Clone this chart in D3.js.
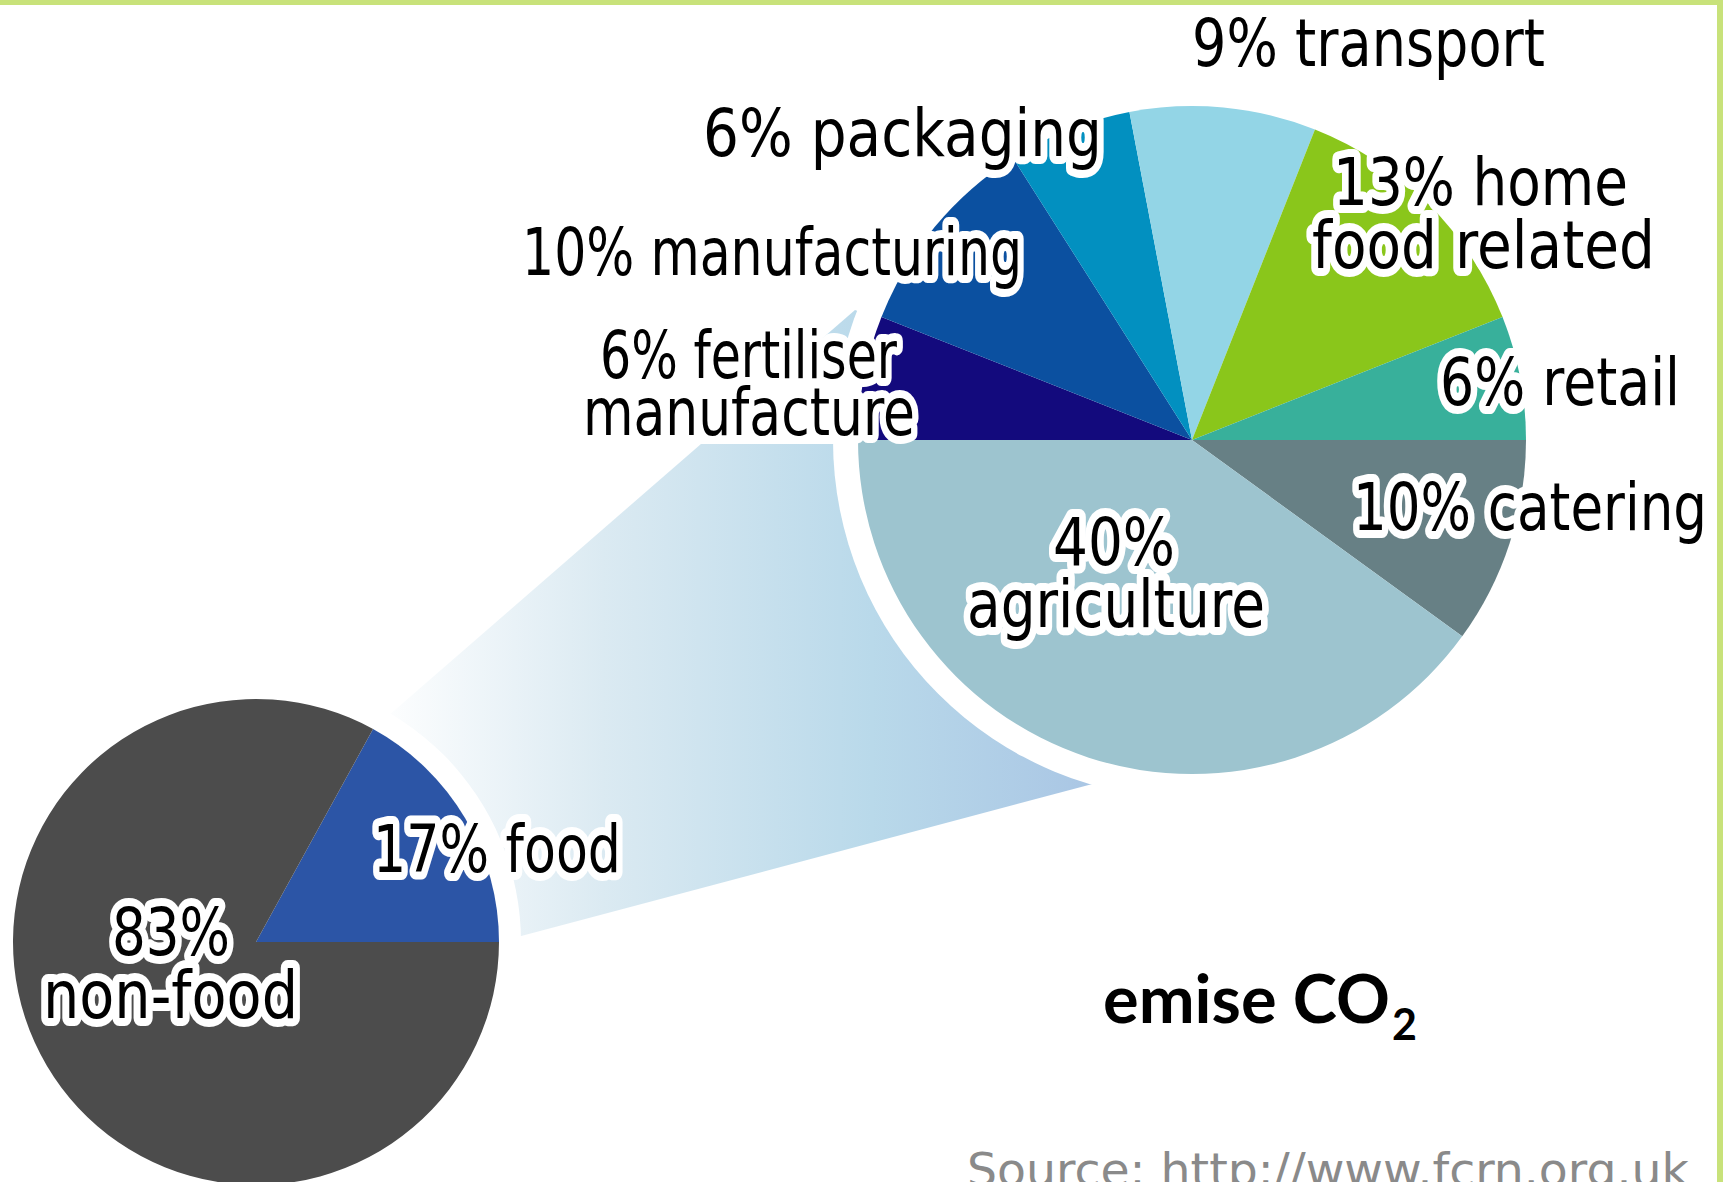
<!DOCTYPE html>
<html>
<head>
<meta charset="utf-8">
<script src="https://cdn.jsdelivr.net/npm/d3@7"></script>
<style>
  html, body { margin: 0; padding: 0; background: #ffffff; }
  svg { display: block; }
  .lbl { font-family: "DejaVu Sans", "Noto Sans", sans-serif; font-size: 66px; fill: #000;
         stroke: #fff; stroke-width: 16px; stroke-linejoin: round; paint-order: stroke; }
</style>
</head>
<body>
<svg id="chart" width="1723" height="1182"></svg>
<script>
// Share of total CO2 emissions: food vs everything else
const splitNames  = ["food", "non-food"];
const splitShares = [17, 83];

// Breakdown of the food share by stage of the supply chain (clockwise from 9 o'clock)
const sectorHeads  = ["fertiliser", "manufacturing", "packaging", "transport", "home", "retail", "catering", ""];
const sectorTails  = ["manufacture", "", "", "", "food related", "", "", "agriculture"];
const sectorShares = [6, 10, 6, 9, 13, 6, 10, 40];

const titleText  = "emise CO";
const titleSub   = "2";
const sourceText = "Source: http://www.fcrn.org.uk";

// ---- colours -------------------------------------------------------------
const splitColors  = ["#2c55a6", "#4c4c4c"];
const sectorColors = ["#130a7d", "#0b50a0", "#0290c0", "#93d5e6", "#8ac61b", "#38b09b", "#678085", "#9dc4cf"];
const frameColor   = "#c8e27a";

// ---- layout ----------------------------------------------------------------
const W = 1723, H = 1182;
const small = { cx: 256, cy: 942, r: 243, gap: 22 };
const big   = { cx: 1192, cy: 440, r: 334, gap: 25 };

// label lines: x of the left edge, baseline, and fitted width
const sectorLabelPos = [
  [{ x: 600, y: 378, w: 297 }, { x: 583, y: 435, w: 332 }],
  [{ x: 522, y: 275, w: 500 }],
  [{ x: 703, y: 156, w: 399 }],
  [{ x: 1192, y: 66, w: 353 }],
  [{ x: 1333, y: 205, w: 295 }, { x: 1312, y: 268, w: 343 }],
  [{ x: 1440, y: 405, w: 240 }],
  [{ x: 1353, y: 530, w: 354 }],
  [{ x: 1053, y: 565, w: 122 }, { x: 967, y: 627, w: 298 }]
];
const splitLabelPos = [
  [{ x: 373, y: 872, w: 248 }],
  [{ x: 112, y: 955, w: 118 }, { x: 43, y: 1018, w: 255 }]
];

const svg = d3.select("#chart");
svg.append("rect").attr("width", W).attr("height", H).attr("fill", "#fff");

// ---- pie layouts -------------------------------------------------------------
const foodFrac = splitShares[0] / d3.sum(splitShares);
const splitStart = Math.PI / 2 - foodFrac * 2 * Math.PI;
const splitArcs = d3.pie().sort(null)
  .startAngle(splitStart).endAngle(splitStart + 2 * Math.PI)(splitShares);

const sectorArcs = d3.pie().sort(null)
  .startAngle(-Math.PI / 2).endAngle(1.5 * Math.PI)(sectorShares);

const polar = (c, rad, a) => [c.cx + rad * Math.sin(a), c.cy - rad * Math.cos(a)];

// ---- the "zoom" cone from the food slice to the detailed pie ----------------
const foodArc = splitArcs[0];
const nearTop = polar(small, small.r, foodArc.startAngle);
const nearBot = polar(small, small.r, foodArc.endAngle);
const farTop = [855, 310];
const farBot = [1100, 782];

const defs = svg.append("defs");
const grad = defs.append("linearGradient").attr("id", "coneFill")
  .attr("gradientUnits", "userSpaceOnUse")
  .attr("x1", nearTop[0]).attr("y1", 0).attr("x2", farBot[0] + 40).attr("y2", 0);
[["0", "#ffffff"], ["0.3", "#dbeaf2"], ["0.65", "#b9d9ea"], ["1", "#a6c2e3"]]
  .forEach(([o, c]) => grad.append("stop").attr("offset", o).attr("stop-color", c));

svg.append("path")
  .attr("d", d3.line()([nearTop, farTop, [big.cx, big.cy], farBot, nearBot]) + "Z")
  .attr("fill", "url(#coneFill)");

// white halos that separate the cone from both pies
svg.append("circle").attr("cx", small.cx).attr("cy", small.cy).attr("r", small.r + small.gap).attr("fill", "#fff");
svg.append("circle").attr("cx", big.cx).attr("cy", big.cy).attr("r", big.r + big.gap).attr("fill", "#fff");
// white panel behind the fertiliser label
svg.append("rect").attr("x", 560).attr("y", 338).attr("width", 370).attr("height", big.cy + 4 - 338).attr("fill", "#fff");

// ---- pies ---------------------------------------------------------------------
svg.append("g").attr("transform", `translate(${small.cx},${small.cy})`)
  .selectAll("path").data(splitArcs).join("path")
  .attr("d", d3.arc().innerRadius(0).outerRadius(small.r))
  .attr("fill", (d, i) => splitColors[i]);

svg.append("g").attr("transform", `translate(${big.cx},${big.cy})`)
  .selectAll("path").data(sectorArcs).join("path")
  .attr("d", d3.arc().innerRadius(0).outerRadius(big.r))
  .attr("fill", (d, i) => sectorColors[i]);

// ---- labels -----------------------------------------------------------------
function drawLabel(lines, pos) {
  lines.forEach((t, k) => {
    if (!t) return;
    const p = pos[k];
    svg.append("text").attr("class", "lbl")
      .attr("x", p.x).attr("y", p.y)
      .attr("textLength", p.w).attr("lengthAdjust", "spacingAndGlyphs")
      .text(t);
  });
}

sectorShares.forEach((v, i) => {
  const first = sectorHeads[i] ? `${v}% ${sectorHeads[i]}` : `${v}%`;
  const lines = sectorTails[i] ? [first, sectorTails[i]] : [first];
  drawLabel(lines, sectorLabelPos[i]);
});

drawLabel([`${splitShares[0]}% ${splitNames[0]}`], splitLabelPos[0]);
drawLabel([`${splitShares[1]}%`, splitNames[1]], splitLabelPos[1]);

// ---- title and source -----------------------------------------------------------
const title = svg.append("text")
  .attr("font-family", "Lato, 'Open Sans', sans-serif").attr("font-weight", 700)
  .attr("fill", "#000");
title.append("tspan").attr("x", 1103).attr("y", 1023).attr("font-size", 67)
  .attr("textLength", 287).attr("lengthAdjust", "spacingAndGlyphs").text(titleText);
title.append("tspan").attr("x", 1392).attr("y", 1040).attr("font-size", 43).text(titleSub);

svg.append("text")
  .attr("x", 967).attr("y", 1186)
  .attr("font-family", "'DejaVu Sans', sans-serif").attr("font-size", 46)
  .attr("fill", "#8a8a8a")
  .attr("textLength", 722).attr("lengthAdjust", "spacingAndGlyphs")
  .text(sourceText);

// ---- frame ----------------------------------------------------------------------
svg.append("rect").attr("x", 0).attr("y", 0).attr("width", W).attr("height", 5).attr("fill", frameColor);
svg.append("rect").attr("x", W - 6).attr("y", 0).attr("width", 6).attr("height", H).attr("fill", frameColor);
</script>
</body>
</html>
